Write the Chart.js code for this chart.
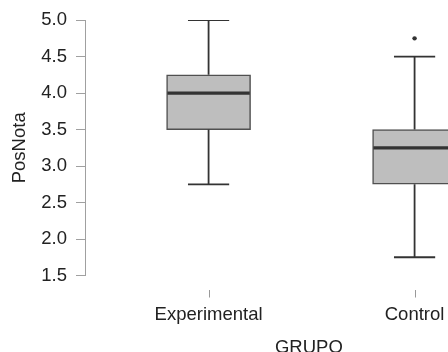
<!DOCTYPE html>
<html>
<head>
<meta charset="utf-8">
<script src="https://cdn.jsdelivr.net/npm/chart.js@4/dist/chart.umd.min.js"></script>
<style>
  html, body { margin: 0; padding: 0; background: #fff; overflow: hidden; width: 448px; height: 352px; }
  canvas { display: block; }
</style>
</head>
<body>
<canvas id="c" width="536" height="360"></canvas>
<script>
// ---- data ----
const categories = ['Experimental', 'Control'];
const mins    = [2.75, 1.75];
const q1s     = [3.5, 2.75];
const medians = [4.0, 3.25];
const q3s     = [4.25, 3.5];
const maxs    = [5.0, 4.5];
const outliers = [[], [4.75]];
const yTicks = [1.5, 2.0, 2.5, 3.0, 3.5, 4.0, 4.5, 5.0];

// ---- styles ----
const BOX_HALF = 0.2;
const CAP_HALF = 0.1;
const LINE_COLOR = '#333333';
const FONT = { family: '"Liberation Sans", Arial, sans-serif', size: 18.5 };

const datasets = [];
datasets.push({
  type: 'bar',
  data: categories.map((c, i) => ({ x: i, y: [q1s[i], q3s[i]] })),
  backgroundColor: '#bebebe',
  borderColor: '#505050',
  borderWidth: 1.5,
  borderSkipped: false,
  barThickness: 84,
  order: 3
});
categories.forEach((c, i) => {
  const seg = (pts, w) => datasets.push({
    type: 'line', data: pts, borderColor: LINE_COLOR, borderWidth: w,
    pointRadius: 0, fill: false, tension: 0, order: 1
  });
  seg([{ x: i - BOX_HALF, y: medians[i] }, { x: i + BOX_HALF, y: medians[i] }], 3.2);
  seg([{ x: i, y: q3s[i] }, { x: i, y: maxs[i] }], 1.8);
  seg([{ x: i, y: q1s[i] }, { x: i, y: mins[i] }], 1.8);
  seg([{ x: i - CAP_HALF, y: maxs[i] }, { x: i + CAP_HALF, y: maxs[i] }], 1.8);
  seg([{ x: i - CAP_HALF, y: mins[i] }, { x: i + CAP_HALF, y: mins[i] }], 1.8);
  if (outliers[i].length) {
    datasets.push({
      type: 'scatter', data: outliers[i].map(v => ({ x: i, y: v })),
      pointRadius: 2.2, pointBackgroundColor: LINE_COLOR, pointBorderWidth: 0,
      showLine: false, order: 1
    });
  }
});

const xTickMarks = {
  id: 'xTickMarks',
  afterDraw(chart) {
    const xs = chart.scales.x, ctx = chart.ctx, b = chart.chartArea.bottom;
    ctx.save();
    ctx.strokeStyle = '#999999';
    ctx.lineWidth = 1;
    categories.forEach((c, i) => {
      const px = Math.round(xs.getPixelForValue(i)) + 0.5;
      ctx.beginPath();
      ctx.moveTo(px, b + 14.5);
      ctx.lineTo(px, b + 22);
      ctx.stroke();
    });
    ctx.restore();
  }
};

new Chart(document.getElementById('c'), {
  data: { datasets },
  options: {
    responsive: false,
    animation: false,
    layout: { padding: { top: 19.3, left: 0, right: 0, bottom: 0 } },
    plugins: { legend: { display: false }, tooltip: { enabled: false } },
    scales: {
      x: {
        type: 'linear',
        offset: false,
        min: -0.5965,
        max: 1.57,
        border: { display: false },
        grid: { display: false, drawTicks: false, offset: false },
        afterBuildTicks: s => { s.ticks = categories.map((c, i) => ({ value: i })); },
        afterFit: s => { s.height = 84.5; },
        ticks: {
          autoSkip: false, maxRotation: 0, padding: 28.4,
          color: '#222', font: FONT,
          callback: v => categories[v] ?? ''
        },
        title: { display: true, text: 'GRUPO', color: '#222', font: FONT, padding: { top: 0, bottom: 0.5 } }
      },
      y: {
        type: 'linear',
        min: 1.5,
        max: 5.0,
        border: { display: true, color: '#a0a0a0', width: 1 },
        grid: { display: true, drawOnChartArea: false, drawTicks: true, tickLength: 9.7, color: '#a0a0a0' },
        afterBuildTicks: s => { s.ticks = yTicks.map(v => ({ value: v })); },
        afterFit: s => { s.width = 85.7; },
        ticks: { padding: 9, color: '#222', font: FONT, callback: v => Number(v).toFixed(1) },
        title: { display: true, text: 'PosNota', color: '#222', font: FONT, padding: { top: 9, bottom: 0 } }
      }
    }
  },
  plugins: [xTickMarks]
});
</script>
</body>
</html>
